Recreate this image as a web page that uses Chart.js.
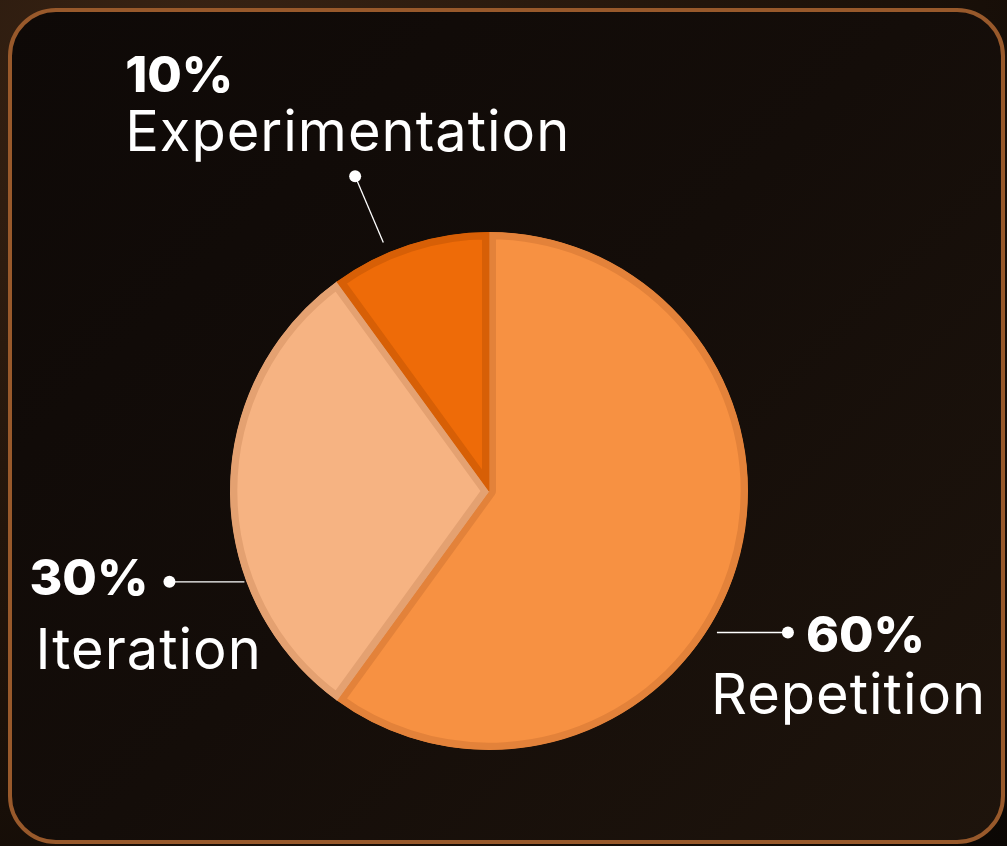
<!DOCTYPE html>
<html>
<head>
<meta charset="utf-8">
<script src="https://cdn.jsdelivr.net/npm/chart.js@4.4.0/dist/chart.umd.min.js"></script>
<style>
  html, body { margin: 0; padding: 0; width: 1007px; height: 846px; overflow: hidden;
    background: radial-gradient(ellipse at 20% 10%, #3a2414 0%, #22150b 45%, #0b0704 100%); }
  #card { position: absolute; left: 8px; top: 8px; width: 989px; height: 828px;
    border: 4px solid #98592b; border-radius: 48px;
    background: linear-gradient(135deg, #0e0907 0%, #140d09 50%, #1e140c 100%); }
  #wrap { position: absolute; left: 0; top: 0; width: 1007px; height: 846px; }
</style>
</head>
<body>
  <div id="card"></div>
  <div id="wrap"><canvas id="pie"></canvas></div>
  <script>
    const labels = ["Repetition", "Iteration", "Experimentation"];
    const shares = [60, 30, 10];
    const fills = ["#f79142", "#f6b382", "#ee6b08"];
    const edges = ["#e3823a", "#e4a171", "#d75f06"];

    // where each callout sits, relative to its slice
    const callouts = [
      { frac: 0.57, gap: 11, len: 71, dir: "right", pct: [18, 19, "left"], name: [-77, 81, "left"] },
      { frac: 0.31, gap: 2, len: 75, dir: "left", pct: [-21, 13, "right"], name: [-134, 87, "left"] },
      { frac: 0.36, gap: 11, len: 72, dir: "radial", pct: [-230, -84, "left"], name: [-230, -25, "left"] }
    ];

    const calloutPlugin = {
      id: "callouts",
      afterDatasetsDraw(chart) {
        const ctx = chart.ctx;
        const arcs = chart.getDatasetMeta(0).data;
        arcs.forEach((arc, i) => {
          const c = callouts[i];
          const p = arc.getProps(["x", "y", "startAngle", "endAngle", "outerRadius"], true);
          const a = p.startAngle + (p.endAngle - p.startAngle) * c.frac;
          const r = p.outerRadius;
          let x0, y0, x1, y1;
          if (c.dir === "radial") {
            x0 = p.x + Math.cos(a) * (r + c.gap);
            y0 = p.y + Math.sin(a) * (r + c.gap);
            x1 = p.x + Math.cos(a) * (r + c.gap + c.len);
            y1 = p.y + Math.sin(a) * (r + c.gap + c.len);
          } else {
            const s = c.dir === "right" ? 1 : -1;
            x0 = p.x + Math.cos(a) * r + s * c.gap;
            y0 = p.y + Math.sin(a) * r;
            x1 = x0 + s * c.len;
            y1 = y0;
          }
          ctx.save();
          ctx.strokeStyle = "#ffffff";
          ctx.lineWidth = 1.3;
          ctx.beginPath();
          ctx.moveTo(x0, y0);
          ctx.lineTo(x1, y1);
          ctx.stroke();
          ctx.fillStyle = "#ffffff";
          ctx.beginPath();
          ctx.arc(x1, y1, 6, 0, Math.PI * 2);
          ctx.fill();

          ctx.textBaseline = "alphabetic";
          ctx.font = "800 50px Inter";
          ctx.letterSpacing = "0px";
          ctx.textAlign = c.pct[2];
          ctx.fillText(shares[i] + "%", x1 + c.pct[0], y1 + c.pct[1]);
          ctx.font = "400 56px Inter";
          ctx.letterSpacing = "1px";
          ctx.textAlign = c.name[2];
          ctx.fillText(labels[i], x1 + c.name[0], y1 + c.name[1]);
          ctx.restore();
        });
      }
    };

    new Chart("pie", {
      type: "pie",
      data: {
        labels: labels,
        datasets: [
          {
            data: shares,
            backgroundColor: fills,
            borderColor: edges,
            borderWidth: 7,
            borderAlign: "inner",
            hoverOffset: 0,
          },
        ],
      },
      options: {
        responsive: true,
        maintainAspectRatio: false,
        animation: false,
        layout: { padding: { left: 230, right: 259, top: 232, bottom: 96 } },
        plugins: {
          legend: { display: false },
          tooltip: { enabled: false },
        },
      },
      plugins: [calloutPlugin],
    });
  </script>
</body>
</html>
